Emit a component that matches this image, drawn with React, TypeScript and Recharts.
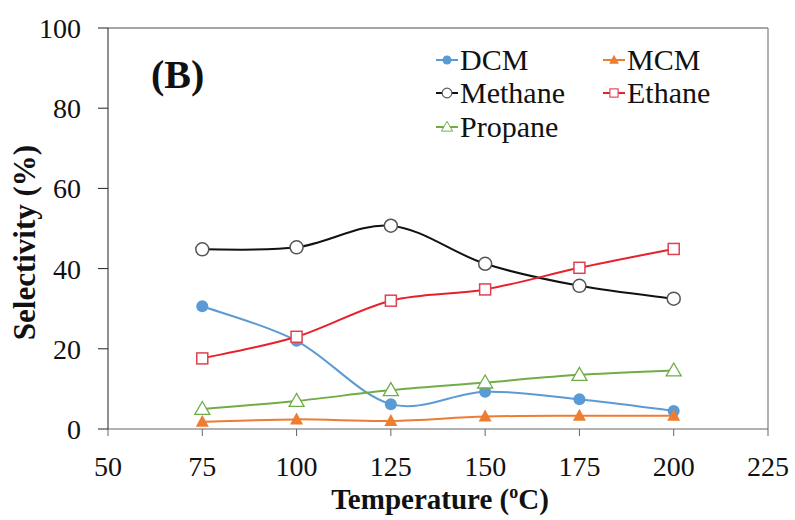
import React from 'react'
import {
  LineChart,
  Line,
  XAxis,
  YAxis,
  Legend,
  Label,
  ReferenceLine,
  Customized
} from 'recharts'

const temps = [75, 100, 125, 150, 175, 200]
const dcm = [30.6, 22, 6.2, 9.3, 7.4, 4.5]
const mcm = [1.8, 2.4, 2.0, 3.1, 3.3, 3.3]
const methane = [44.8, 45.3, 50.7, 41.2, 35.7, 32.5]
const ethane = [17.6, 23, 32, 34.8, 40.2, 44.9]
const propane = [5, 7, 9.7, 11.6, 13.5, 14.6]

const xTicks = [50, 75, 100, 125, 150, 175, 200, 225]
const yTicks = [0, 20, 40, 60, 80, 100]

const data = temps.map((t, i) => ({
  t,
  DCM: dcm[i],
  MCM: mcm[i],
  Methane: methane[i],
  Ethane: ethane[i],
  Propane: propane[i]
}))

type Kind = 'dot' | 'ring' | 'tri' | 'triOpen' | 'square'

const SERIES: { key: string; color: string; kind: Kind; mark: string }[] = [
  { key: 'DCM', color: '#5B9BD5', kind: 'dot', mark: '#5B9BD5' },
  { key: 'MCM', color: '#ED7D31', kind: 'tri', mark: '#ED7D31' },
  { key: 'Methane', color: '#111111', kind: 'ring', mark: '#555555' },
  { key: 'Ethane', color: '#E8202A', kind: 'square', mark: '#E04050' },
  { key: 'Propane', color: '#70AD47', kind: 'triOpen', mark: '#70AD47' }
]

const SERIF = 'Liberation Serif'

// excel-like smoothing (catmull-rom through the points)
class SmoothCurve {
  ctx: any
  pts: number[][] = []
  constructor(ctx: any) {
    this.ctx = ctx
  }
  areaStart() {}
  areaEnd() {}
  lineStart() {
    this.pts = []
  }
  point(x: number, y: number) {
    this.pts.push([+x, +y])
  }
  lineEnd() {
    const p = this.pts
    if (!p.length) return
    this.ctx.moveTo(p[0][0], p[0][1])
    for (let i = 0; i < p.length - 1; i++) {
      const p0 = p[i - 1] || p[i]
      const p1 = p[i]
      const p2 = p[i + 1]
      const p3 = p[i + 2] || p[i + 1]
      this.ctx.bezierCurveTo(
        p1[0] + (p2[0] - p0[0]) / 6,
        p1[1] + (p2[1] - p0[1]) / 6,
        p2[0] - (p3[0] - p1[0]) / 6,
        p2[1] - (p3[1] - p1[1]) / 6,
        p2[0],
        p2[1]
      )
    }
  }
}
const smooth = (ctx: any) => new SmoothCurve(ctx)

function Marker({ kind, cx, cy, color }: { kind: Kind; cx: number; cy: number; color: string }) {
  if (cx == null || cy == null) return null
  switch (kind) {
    case 'dot':
      return <circle cx={cx} cy={cy} r={6} fill={color} />
    case 'ring':
      return <circle cx={cx} cy={cy} r={6.5} fill="#fff" stroke={color} strokeWidth={1.5} />
    case 'square':
      return <rect x={cx - 5.5} y={cy - 5.5} width={11} height={11} fill="#fff" stroke={color} strokeWidth={1.5} />
    case 'tri':
      return <polygon points={`${cx},${cy - 7} ${cx + 6.5},${cy + 5} ${cx - 6.5},${cy + 5}`} fill={color} />
    case 'triOpen':
      return (
        <polygon
          points={`${cx},${cy - 7.5} ${cx + 7.5},${cy + 5.5} ${cx - 7.5},${cy + 5.5}`}
          fill="#fff"
          stroke={color}
          strokeWidth={1.3}
        />
      )
  }
  return null
}

function LegendBox() {
  const pos = [
    [0, 0],
    [167, 0],
    [0, 33],
    [167, 33],
    [0, 67]
  ]
  return (
    <svg width={340} height={110}>
      {SERIES.map((s, i) => {
        const [dx, dy] = pos[i]
        const cy = 22 + dy
        return (
          <g key={s.key}>
            <line x1={dx + 6} x2={dx + 28} y1={cy} y2={cy} stroke={s.color} strokeWidth={2} />
            <g transform="scale(0.75)" style={{ transformOrigin: `${dx + 17}px ${cy}px` }}>
              <Marker kind={s.kind} cx={dx + 17} cy={cy} color={s.mark} />
            </g>
            <text x={dx + 30} y={cy + 10} style={{ fontFamily: SERIF, fontSize: 30 }} fill="#111">
              {s.key}
            </text>
          </g>
        )
      })}
    </svg>
  )
}

const tickStyle = { fontFamily: SERIF, fontSize: 28, fill: '#111' }

export default function App() {
  return (
    <div
      style={{
        position: 'absolute',
        left: 0,
        top: 0,
        width: 795,
        height: 520,
        background: '#fff',
        fontFamily: SERIF
      }}
    >
      <LineChart width={795} height={520} data={data} margin={{ top: 28, right: 27, left: 0, bottom: 0 }}>
        <XAxis
          dataKey="t"
          type="number"
          domain={[50, 225]}
          ticks={xTicks}
          height={91}
          tickSize={7}
          tickMargin={20}
          stroke="#666"
          tick={tickStyle}
        >
          <Label
            content={({ viewBox }: any) => (
              <text
                x={viewBox.x + viewBox.width / 2 + 2}
                y={viewBox.y + 80}
                textAnchor="middle"
                style={{ fontFamily: SERIF, fontWeight: 'bold', fontSize: 29 }}
                fill="#111"
              >
                <tspan>Temperature (</tspan>
                <tspan dy={-11} fontSize={18}>o</tspan>
                <tspan dy={11}>C)</tspan>
              </text>
            )}
          />
        </XAxis>
        <YAxis
          type="number"
          domain={[0, 100]}
          ticks={yTicks}
          width={108}
          tickSize={10}
          tickMargin={17}
          stroke="#222"
          tick={tickStyle}
        >
          <Label
            content={({ viewBox }: any) => (
              <text
                transform={`translate(24, ${viewBox.y + viewBox.height / 2 + 14}) rotate(-90)`}
                textAnchor="middle"
                dominantBaseline="central"
                style={{ fontFamily: SERIF, fontWeight: 'bold', fontSize: 31 }}
                fill="#111"
              >
                Selectivity (%)
              </text>
            )}
          />
        </YAxis>
        <ReferenceLine y={100} stroke="#888" strokeWidth={1.3} />
        <ReferenceLine x={225} stroke="#888" strokeWidth={1.3} />
        <Customized
          component={() => (
            <text x={151} y={88} style={{ fontFamily: SERIF, fontWeight: 'bold', fontSize: 40 }} fill="#111">
              (B)
            </text>
          )}
        />
        <Legend
          layout="vertical"
          verticalAlign="middle"
          align="center"
          wrapperStyle={{ position: 'absolute', left: 430, top: 38, width: 340, height: 110 }}
          content={() => <LegendBox />}
        />
        {SERIES.map((s) => (
          <Line
            key={s.key}
            dataKey={s.key}
            type={smooth as any}
            stroke={s.color}
            strokeWidth={2}
            isAnimationActive={false}
            dot={(p: any) => <Marker key={`${s.key}-${p.index}`} kind={s.kind} cx={p.cx} cy={p.cy} color={s.mark} />}
            activeDot={false}
          />
        ))}
      </LineChart>
    </div>
  )
}
